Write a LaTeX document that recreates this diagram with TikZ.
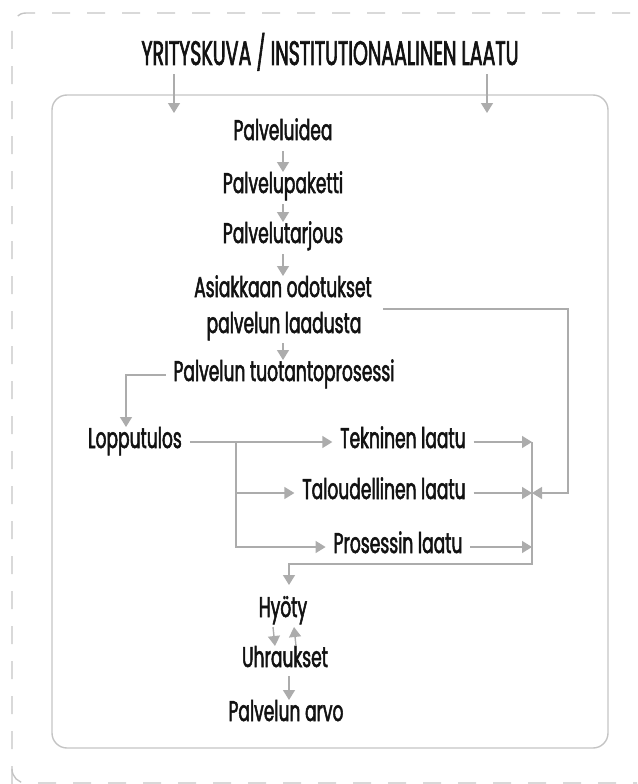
\documentclass[tikz,border=0pt]{standalone}
\usepackage{fontspec}
\setmainfont{Poppins}[FakeStretch=0.6, FakeBold=1.8]
\newfontfamily\titlefont{Poppins}[FakeStretch=0.56, FakeBold=1.8]
\usetikzlibrary{arrows.meta,calc}

\definecolor{inkgray}{RGB}{18,18,18}
\definecolor{linegray}{RGB}{172,172,172}
\definecolor{framegray}{RGB}{196,196,196}

\begin{document}
\begin{tikzpicture}[x=1pt,y=-1pt,
  lbl/.style={anchor=base, inner xsep=3pt, inner ysep=0pt, outer sep=5pt,
    text height=16pt, text depth=4pt, text=inkgray,
    font=\fontsize{28.5}{34}\selectfont},
  ttl/.style={lbl, font=\titlefont\fontsize{34}{40}\selectfont},
  conn/.style={draw=linegray, line width=1.4pt},
  arr/.style={conn, -{Triangle[length=10pt,width=12pt]}},
  framebox/.style={draw=framegray, line width=1.4pt}]

\useasboundingbox (0,0) rectangle (637,784);

% outer dashed frame, running off the right and bottom edges
\begin{scope}
  \clip (0,0) rectangle (637,784);
  \draw[framebox, dash pattern=on 18pt off 17pt, rounded corners=14pt]
    (12,784) -- (12,13) -- (690,13);
  \draw[framebox, dash pattern=on 18pt off 17pt, rounded corners=14pt]
    (12,770) -- (12,783) -- (690,783);
\end{scope}

% inner frame
\draw[framebox, rounded corners=15pt] (52,95) rectangle (608,748);

% labels
\node[ttl] (title) at (330,65) {YRITYSKUVA / INSTITUTIONAALINEN LAATU};
\node[lbl] (idea)  at (283,140) {Palveluidea};
\node[lbl] (paket) at (283,193) {Palvelupaketti};
\node[lbl] (tarj)  at (283,243) {Palvelutarjous};
\node[lbl] (odot)  at (283,297) {Asiakkaan odotukset};
\node[lbl] (laad)  at (284,333) {palvelun laadusta};
\node[lbl] (tuot)  at (284,381) {Palvelun tuotantoprosessi};
\node[lbl] (loppu) at (135,448) {Lopputulos};
\node[lbl] (tek)   at (403,448) {Tekninen laatu};
\node[lbl] (talo)  at (384,499) {Taloudellinen laatu};
\node[lbl] (pros)  at (398,553) {Prosessin laatu};
\node[lbl] (hyoty) at (283,617) {Hyöty};
\node[lbl] (uhr)   at (285,667) {Uhraukset};
\node[lbl] (arvo)  at (286,721) {Palvelun arvo};

% helper points
\coordinate (t1) at (174,113);
\coordinate (t2) at (487,113);
\coordinate (q)  at (383,309);
\coordinate (br) at (236,442);
\coordinate (c1) at (532,442);
\coordinate (c2) at (532,493);
\coordinate (c3) at (532,547);
\coordinate (cb) at (532,564);
\coordinate (ret) at (568,493);

% title arrows into the frame
\draw[arr] (title.south -| t1) -- (t1);
\draw[arr] (title.south -| t2) -- (t2);

% main chain
\draw[arr] ([yshift=-2pt]idea.south) -- (paket.north);
\draw[arr] ([yshift=-2pt]paket.south) -- (tarj.north);
\draw[arr] ([yshift=-2pt]tarj.south) -- (odot.north);
\draw[arr] ([yshift=-1pt]laad.south -| odot) -- (odot |- tuot.north);
\draw[arr] (tuot.west) -| ([xshift=-9pt]loppu.north);

% quality branches
\draw[arr] (loppu.east) -- (tek.west);
\draw[arr] (br) |- (talo.west);
\draw[arr] (br) |- (pros.west);
\draw[arr] (tek.east) -- (c1);
\draw[arr] (talo.east) -- (c2);
\draw[arr] (pros.east) -- (c3);
\draw[arr] (q) -| (ret) -- (c2);
\draw[arr] (c1) -- (cb) -| ([xshift=6pt,yshift=11pt]hyoty.north);

% value
\draw[arr] ([xshift=-10pt,yshift=-1pt]hyoty.south) -- ([xshift=-10pt]uhr.north);
\draw[arr] ([xshift=11pt]uhr.north) -- ([xshift=11pt,yshift=-1pt]hyoty.south);
\draw[arr] ([xshift=4pt]uhr.south) -- ([xshift=4pt]uhr.south |- arvo.north);
\end{tikzpicture}
\end{document}
